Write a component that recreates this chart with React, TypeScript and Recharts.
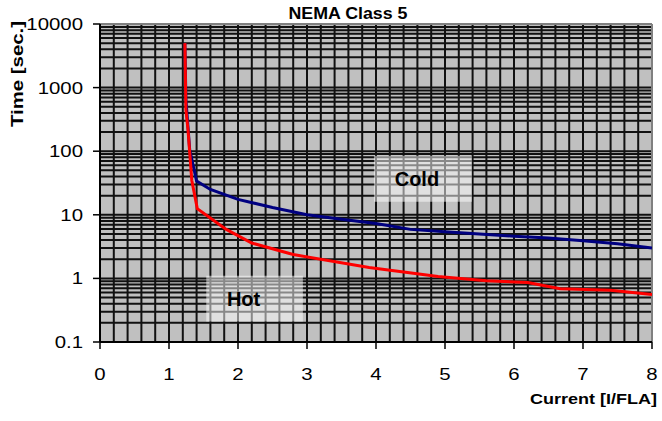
import React from 'react';
import {
  LineChart,
  Line,
  XAxis,
  YAxis,
  CartesianGrid,
  ReferenceArea,
  ReferenceLine,
  Customized,
} from 'recharts';

// ---- data ----
const xTicks = [0, 1, 2, 3, 4, 5, 6, 7, 8];
const yTicks = [0.1, 1, 10, 100, 1000, 10000];

const coldCurrent = [1.23, 1.245, 1.3, 1.4, 1.6, 2.0, 2.5, 3.0, 3.5, 4.0, 4.5, 5.0, 5.5, 6.0, 6.5, 7.0, 7.5, 8.0];
const coldTime = [5000, 650, 105, 34, 25, 17.5, 13, 10, 8.5, 7.3, 5.9, 5.4, 5.0, 4.6, 4.3, 3.9, 3.5, 3.0];

const hotCurrent = [1.23, 1.245, 1.275, 1.33, 1.41, 1.83, 2.2, 2.8, 3.9, 4.9, 5.6, 6.2, 6.67, 7.4, 8.0];
const hotTime = [5000, 450, 220, 35, 12.5, 5.9, 3.6, 2.37, 1.48, 1.07, 0.92, 0.86, 0.69, 0.65, 0.56];

// annotation boxes (data coordinates)
const coldBox = { x1: 3.97, x2: 5.39, y1: 16, y2: 85, text: 'Cold' };
const hotBox = { x1: 1.54, x2: 2.94, y1: 0.21, y2: 1.1, text: 'Hot' };

// grid steps
const xGridValues: number[] = [];
for (let i = 1; i < 40; i++) xGridValues.push(i * 0.2);
const yGridValues: number[] = [];
[0.1, 1, 10, 100, 1000].forEach((d) => {
  for (let m = 1; m <= 9; m++) yGridValues.push(m * d);
});

const coldData = coldCurrent.map((x, i) => ({ x, t: coldTime[i] }));
const hotData = hotCurrent.map((x, i) => ({ x, t: hotTime[i] }));

const FONT = '"Liberation Sans", Arial, sans-serif';

const applyScale = (s: any, v: number) => (typeof s === 'function' ? s(v) : s.map(v));

const hGen = ({ yAxis }: any) => {
  if (yAxis && yAxis.scale) return yGridValues.map((v) => applyScale(yAxis.scale, v));
  return [];
};
const vGen = ({ xAxis }: any) => {
  if (xAxis && xAxis.scale) return xGridValues.map((v) => applyScale(xAxis.scale, v));
  return [];
};

const YTick = (props: any) => {
  const { x, y, payload } = props;
  return (
    <g transform={`translate(${x},${y}) scale(1.2,1)`}>
      <text x={0} y={0} dy={6} textAnchor="end" fontSize={17} fontFamily={FONT} fill="#000">
        {String(payload.value)}
      </text>
    </g>
  );
};

const XTick = (props: any) => {
  const { x, y, payload } = props;
  return (
    <g transform={`translate(${x},${y}) scale(1.2,1)`}>
      <text x={0} y={0} dy={31} textAnchor="middle" fontSize={17} fontFamily={FONT} fill="#000">
        {String(payload.value)}
      </text>
    </g>
  );
};

const boxLabel = (text: string, dx: number) => (props: any) => {
  const vb = props.viewBox || {};
  const cx = vb.x + vb.width / 2 + dx;
  const cy = vb.y + vb.height / 2 + 7;
  return (
    <text x={cx} y={cy} textAnchor="middle" fontSize={20} fontWeight="bold" fontFamily={FONT} fill="#000">
      {text}
    </text>
  );
};

const Texts = () => (
  <g>
    <text x={348} y={19} textAnchor="middle" fontSize={17} fontWeight="bold" fontFamily={FONT} fill="#000" textLength={119} lengthAdjust="spacingAndGlyphs">
      NEMA Class 5
    </text>
    <text x={657} y={404} textAnchor="end" fontSize={15} fontWeight="bold" fontFamily={FONT} fill="#000" textLength={127} lengthAdjust="spacingAndGlyphs">
      Current [I/FLA]
    </text>
    <text transform="translate(23,74) rotate(-90)" x={0} y={0} textAnchor="middle" fontSize={16} fontWeight="bold" fontFamily={FONT} fill="#000" textLength={106} lengthAdjust="spacingAndGlyphs">
      Time [sec.]
    </text>
  </g>
);

export default function App() {
  return (
    <div style={{ position: 'absolute', left: 0, top: 0, background: '#fff' }}>
      <LineChart width={662} height={421} margin={{ top: 24, right: 10, bottom: 49, left: 0 }}>
        <CartesianGrid
          fill="#C0C0C0"
          fillOpacity={1}
          stroke="#111"
          strokeWidth={2}
          horizontalCoordinatesGenerator={hGen}
          verticalCoordinatesGenerator={vGen}
        />
        <XAxis
          dataKey="x"
          type="number"
          domain={[0, 8]}
          ticks={xTicks}
          allowDataOverflow
          height={30}
          tickSize={7}
          tickMargin={0}
          axisLine={{ stroke: '#000', strokeWidth: 2 }}
          tickLine={{ stroke: '#000', strokeWidth: 1.5 }}
          tick={<XTick />}
          interval={0}
        />
        <YAxis
          dataKey="t"
          scale="log"
          domain={[0.1, 10000]}
          ticks={yTicks}
          allowDataOverflow
          width={100}
          tickSize={7}
          tickMargin={10}
          axisLine={{ stroke: '#000', strokeWidth: 2 }}
          tickLine={{ stroke: '#000', strokeWidth: 1.5 }}
          tick={<YTick />}
          interval={0}
        />
        <ReferenceLine y={10000} stroke="#808080" strokeWidth={2} />
        <ReferenceLine x={8} stroke="#808080" strokeWidth={2} />
        <ReferenceArea
          x1={coldBox.x1}
          x2={coldBox.x2}
          y1={coldBox.y1}
          y2={coldBox.y2}
          fill="#ffffff"
          fillOpacity={0.5}
          stroke="none"
          label={boxLabel(coldBox.text, -6)}
        />
        <ReferenceArea
          x1={hotBox.x1}
          x2={hotBox.x2}
          y1={hotBox.y1}
          y2={hotBox.y2}
          fill="#ffffff"
          fillOpacity={0.5}
          stroke="none"
          label={boxLabel(hotBox.text, -11)}
        />
        <Line data={coldData} dataKey="t" type="linear" stroke="#000080" strokeWidth={3} dot={false} isAnimationActive={false} />
        <Line data={hotData} dataKey="t" type="linear" stroke="#FF0000" strokeWidth={3} dot={false} isAnimationActive={false} />
        <Customized component={Texts} />
      </LineChart>
    </div>
  );
}
